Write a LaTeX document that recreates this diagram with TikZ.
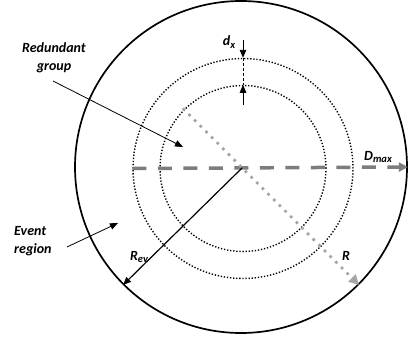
\documentclass[tikz,border=0pt]{standalone}
\usepackage{fontspec}
\setmainfont{Carlito}
\usetikzlibrary{arrows.meta}
\definecolor{dgray}{RGB}{125,125,125}
\definecolor{lgray}{RGB}{165,165,165}
\newcommand\mysub[1]{\raisebox{-2.5pt}{\fontsize{10.5}{10.5}\selectfont #1}}
\begin{document}
\begin{tikzpicture}[x=1pt,y=-1pt,
  lbl/.style={font=\fontsize{14}{18}\selectfont\bfseries\itshape, inner sep=0pt},
  ring/.style={circle, draw, inner sep=0pt},
  dotring/.style={ring, line width=1.4pt, dash pattern=on 1.3pt off 1.8pt},
  blk/.style={line width=1.1pt, -{Triangle[length=8pt,width=6.5pt]}},
  dmax/.style={dgray, line width=3.5pt, dash pattern=on 14pt off 11.5pt, -{Triangle[length=9pt,width=9pt]}},
  rline/.style={lgray, line width=3.8pt, line cap=round, dash pattern=on 0pt off 8pt, -{Triangle[length=10pt,width=10pt]}}]
\useasboundingbox (0,0) rectangle (409,340);
\fill[white] (0,0) rectangle (409,340);
\node[ring, line width=1.7pt, minimum size=332pt] (outer) at (241,167) {};
\node[dotring, minimum size=220pt] (od) at (243,168.5) {};
\node[dotring, minimum size=166pt] (id) at (243,168.5) {};
\coordinate (c) at (242,168);
% D_max
\draw[dmax] (od.west) -- (outer.east);
% R
\draw[rline] (id.135) -- (outer.-45);
% R_ev
\draw[blk, line width=1.2pt] (c) -- (outer.225);
% d_x
\coordinate (dxt) at (243,40);
\coordinate (dxb) at (243,105);
\draw[blk, line width=0.9pt] (dxt) -- (od.north);
\draw[blk, line width=0.9pt] (dxb) -- (id.north);
\draw[line width=0.9pt, dash pattern=on 3pt off 2pt] (od.north) -- (id.north);
% labels
\node[lbl] (ldx) at (229,42) {d\mysub{x}};
\node[lbl] (ldm) at (378,157) {D\mysub{max}};
\node[lbl] (lr) at (346,256) {R};
\node[lbl] (lrev) at (139,257) {R\mysub{ev}};
\node[lbl, align=center] (lrg) at (54,58) {Redundant\\group};
\node[lbl, align=left, anchor=west] (ler) at (14,241.5) {Event\\region};
\coordinate (rgs) at (53,81);
\coordinate (rge) at (183,147);
\draw[blk, line width=0.8pt] (rgs) -- (rge);
\coordinate (ers) at (67,247);
\coordinate (ere) at (118,223);
\draw[blk, line width=0.8pt] (ers) -- (ere);
\end{tikzpicture}
\end{document}
